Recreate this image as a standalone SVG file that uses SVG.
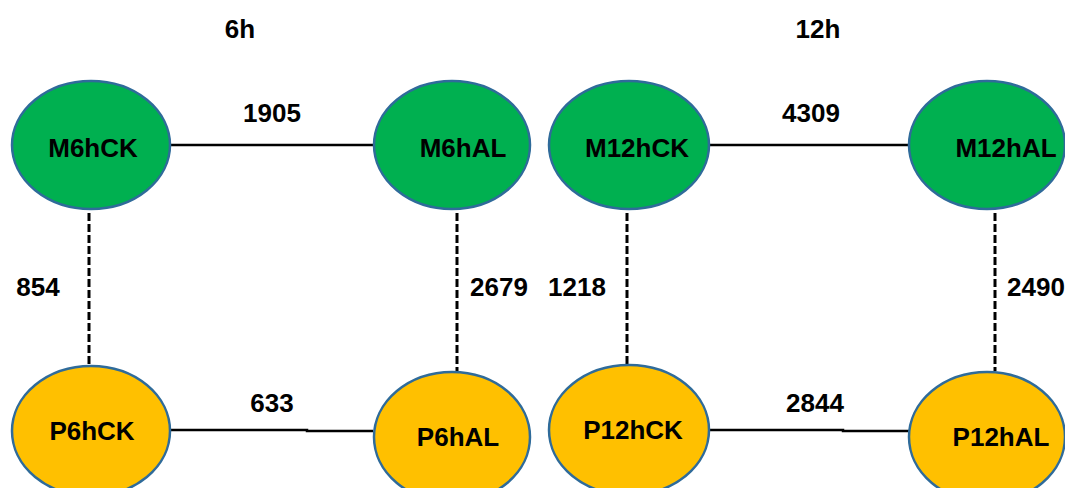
<svg xmlns="http://www.w3.org/2000/svg" width="1065" height="488" viewBox="0 0 1065 488">
<style>
text{font-family:"Liberation Sans",Arial,sans-serif;font-weight:bold;font-size:26px;fill:#000;text-anchor:middle}
.m{fill:#00B050;stroke:#2F6B9A;stroke-width:2.5}
.p{fill:#FFC000;stroke:#2F6B9A;stroke-width:2.5}
.solid{stroke:#000;stroke-width:2.5;fill:none}
.dash{stroke:#000;stroke-width:3;fill:none;stroke-dasharray:8 3}
</style>
<rect width="1065" height="488" fill="#fff"/>
<g id="connectors">
<line class="solid" x1="171" y1="145" x2="374" y2="145"/>
<line class="solid" x1="709" y1="145" x2="909" y2="145"/>
<polyline class="solid" points="169,430 307,430 307,431 373,431"/>
<polyline class="solid" points="709,430 843,430 843,431 909,431"/>
<line class="dash" x1="89" y1="213" x2="89" y2="366"/>
<line class="dash" x1="457" y1="213" x2="457" y2="371"/>
<line class="dash" x1="627" y1="213" x2="627" y2="366"/>
<line class="dash" x1="995" y1="213" x2="995" y2="371"/>
<text x="272" y="122">1905</text>
<text x="811" y="122">4309</text>
<text x="38" y="296">854</text>
<text x="499" y="296">2679</text>
<text x="577" y="296">1218</text>
<text x="1036" y="296">2490</text>
<text x="272" y="412">633</text>
<text x="815" y="412">2844</text>
</g>
<g id="title-6h"><text x="240" y="38">6h</text></g>
<g id="title-12h"><text x="818" y="38">12h</text></g>
<g id="M6hCK"><ellipse class="m" cx="91" cy="145" rx="79" ry="64"/><text x="93" y="157">M6hCK</text></g>
<g id="M6hAL"><ellipse class="m" cx="452" cy="145" rx="78" ry="64"/><text x="463" y="157">M6hAL</text></g>
<g id="M12hCK"><ellipse class="m" cx="629" cy="145" rx="80" ry="64"/><text x="637" y="157">M12hCK</text></g>
<g id="M12hAL"><ellipse class="m" cx="987" cy="145" rx="78" ry="64"/><text x="1006" y="157">M12hAL</text></g>
<g id="P6hCK"><ellipse class="p" cx="91" cy="431" rx="79" ry="65"/><text x="92" y="440">P6hCK</text></g>
<g id="P6hAL"><ellipse class="p" cx="452" cy="437" rx="78" ry="65"/><text x="458" y="446">P6hAL</text></g>
<g id="P12hCK"><ellipse class="p" cx="629" cy="430" rx="80" ry="65"/><text x="633" y="439">P12hCK</text></g>
<g id="P12hAL"><ellipse class="p" cx="987" cy="437" rx="78" ry="65"/><text x="1001" y="446">P12hAL</text></g>
</svg>
